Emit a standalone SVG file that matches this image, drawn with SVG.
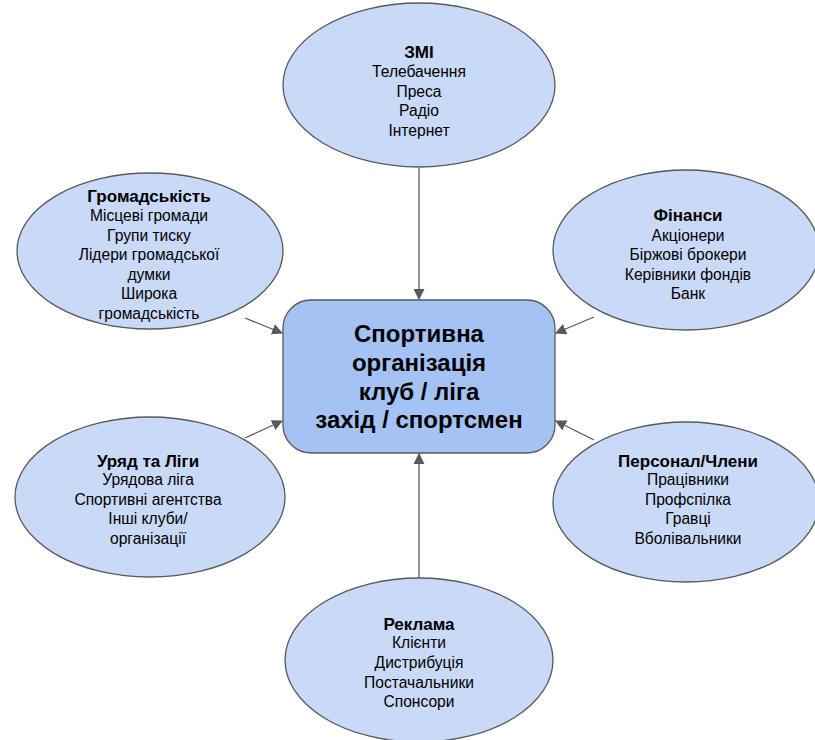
<svg xmlns="http://www.w3.org/2000/svg" width="815" height="740" viewBox="0 0 815 740">
  <style>
    .ell { fill: #c9daf8; stroke: #595959; stroke-width: 1.3; }
    .core { fill: #a4c2f4; stroke: #595959; stroke-width: 1.3; }
    text { font-family: "Liberation Sans", Arial, sans-serif; fill: #000; text-anchor: middle; }
    .t { font-size: 15.6px; }
    .h { font-size: 17px; font-weight: bold; }
    .big { font-size: 24px; font-weight: bold; }
    .link { stroke: #595959; stroke-width: 1.3; fill: none; marker-end: url(#arr); }
  </style>
  <defs>
    <marker id="arr" viewBox="0 0 10 10" refX="9" refY="5" markerWidth="11" markerHeight="11" markerUnits="userSpaceOnUse" orient="auto">
      <path d="M0,0 L10,5 L0,10 z" fill="#595959"/>
    </marker>
  </defs>
  <rect width="815" height="740" fill="#fff"/>

  <g id="connectors">
    <line class="link" x1="419" y1="168" x2="419" y2="299"/>
    <line class="link" x1="419" y1="578" x2="419" y2="454"/>
    <line class="link" x1="245" y1="318" x2="282" y2="333"/>
    <line class="link" x1="594" y1="317" x2="556" y2="333"/>
    <line class="link" x1="245" y1="438" x2="282" y2="421"/>
    <line class="link" x1="594" y1="440" x2="556" y2="421"/>
  </g>

  <g id="media">
    <ellipse class="ell" cx="419" cy="85" rx="136" ry="82"/>
    <text class="h" x="419" y="58">ЗМІ</text>
    <text class="t" x="419" y="77">Телебачення</text>
    <text class="t" x="419" y="97">Преса</text>
    <text class="t" x="419" y="116">Радіо</text>
    <text class="t" x="419" y="136">Інтернет</text>
  </g>

  <g id="community">
    <ellipse class="ell" cx="150" cy="251" rx="133" ry="78"/>
    <text class="h" x="149" y="202">Громадськість</text>
    <text class="t" x="149" y="221">Місцеві громади</text>
    <text class="t" x="149" y="241">Групи тиску</text>
    <text class="t" x="149" y="260">Лідери громадської</text>
    <text class="t" x="149" y="280">думки</text>
    <text class="t" x="149" y="299">Широка</text>
    <text class="t" x="149" y="319">громадськість</text>
  </g>

  <g id="finance">
    <ellipse class="ell" cx="686" cy="250" rx="133" ry="80"/>
    <text class="h" x="688" y="221">Фінанси</text>
    <text class="t" x="688" y="241">Акціонери</text>
    <text class="t" x="688" y="260">Біржові брокери</text>
    <text class="t" x="688" y="280">Керівники фондів</text>
    <text class="t" x="688" y="299">Банк</text>
  </g>

  <g id="organisation">
    <rect class="core" x="283" y="300" width="272" height="153" rx="28" ry="28"/>
    <text class="big" x="419" y="342">Спортивна</text>
    <text class="big" x="419" y="371">організація</text>
    <text class="big" x="419" y="400">клуб / ліга</text>
    <text class="big" x="419" y="428">захід / спортсмен</text>
  </g>

  <g id="government">
    <ellipse class="ell" cx="150" cy="497" rx="135" ry="80"/>
    <text class="h" x="148" y="467">Уряд та Ліги</text>
    <text class="t" x="148" y="485">Урядова ліга</text>
    <text class="t" x="148" y="505">Спортивні агентства</text>
    <text class="t" x="148" y="524">Інші клуби/</text>
    <text class="t" x="148" y="544">організації</text>
  </g>

  <g id="staff">
    <ellipse class="ell" cx="686" cy="502" rx="133" ry="80"/>
    <text class="h" x="688" y="467">Персонал/Члени</text>
    <text class="t" x="688" y="485">Працівники</text>
    <text class="t" x="688" y="505">Профспілка</text>
    <text class="t" x="688" y="524">Гравці</text>
    <text class="t" x="688" y="544">Вболівальники</text>
  </g>

  <g id="advertising">
    <ellipse class="ell" cx="419" cy="660" rx="134" ry="82"/>
    <text class="h" x="419" y="630">Реклама</text>
    <text class="t" x="419" y="648">Клієнти</text>
    <text class="t" x="419" y="668">Дистрибуція</text>
    <text class="t" x="419" y="688">Постачальники</text>
    <text class="t" x="419" y="707">Спонсори</text>
  </g>
</svg>
